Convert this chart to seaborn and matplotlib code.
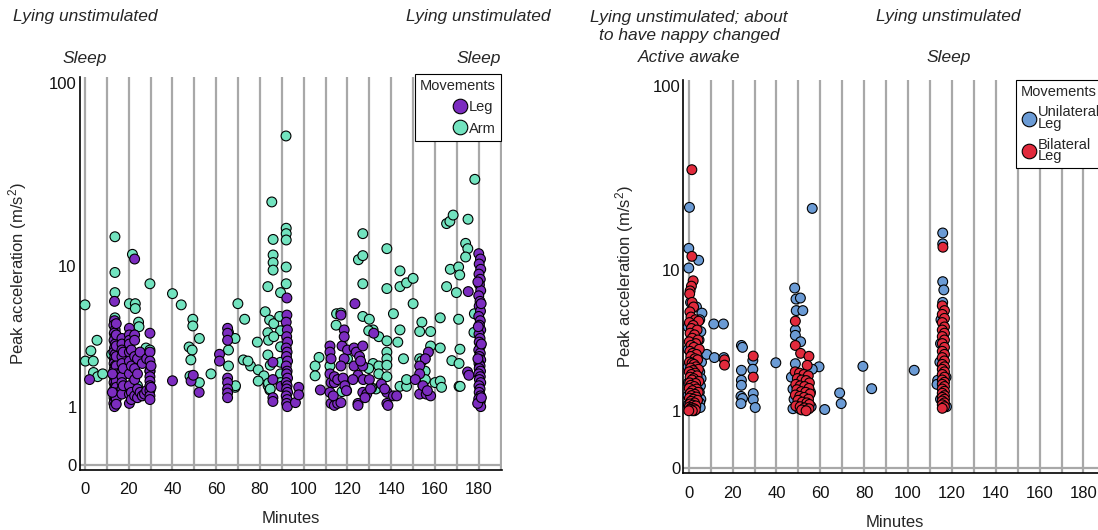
import numpy as np
import pandas as pd
import matplotlib
matplotlib.use("Agg")
import matplotlib.pyplot as plt
from matplotlib.lines import Line2D
import seaborn as sns

# ---------------- data (minutes, peak acceleration m/s^2) ----------------
leg_points = [
    (2.1, 1.8),
    (13.5, 6.2), (13.5, 4.7), (13.2, 4.4), (13.8, 4.1), (13.4, 3.9), (13.7, 3.7), (13.3, 3.5), (13.8, 3.3),
    (13.5, 3.1), (13.2, 2.9), (13.8, 2.8), (13.4, 2.6), (13.7, 2.5), (13.3, 2.4), (13.8, 2.3), (13.5, 2.2),
    (13.2, 2.1), (13.8, 2.0), (13.4, 1.9), (13.7, 1.8), (13.3, 1.7), (13.8, 1.6), (13.5, 1.5), (13.2, 1.45),
    (13.8, 1.4), (13.4, 1.35), (13.7, 1.3), (13.3, 1.25), (13.8, 1.2), (13.5, 1.15), (13.2, 1.1), (13.7, 1.05),
    (13.5, 1.02),
    (14.3, 4.5), (14.3, 3.8), (14.3, 3.2), (14.3, 2.7), (14.3, 2.3), (14.3, 2.0), (14.3, 1.75), (14.3, 1.55),
    (14.3, 1.38), (14.3, 1.22), (14.3, 1.08), (12.5, 1.4), (12.6, 2.0),
    (16.9, 3.6), (16.9, 3.3), (16.9, 3.0), (16.9, 2.7), (16.9, 2.4), (16.9, 2.1), (16.9, 1.9), (16.9, 1.7),
    (16.9, 1.5), (16.9, 1.35), (17.5, 2.9), (17.5, 2.2), (17.5, 1.6),
    (20.3, 4.2), (20.3, 3.8), (20.3, 3.5), (20.3, 3.3), (20.3, 2.9), (20.3, 2.5), (20.3, 2.0), (20.3, 1.6),
    (20.3, 1.35), (20.3, 1.1), (21.2, 3.0), (21.2, 2.3), (21.2, 1.4), (21.2, 1.2),
    (22.7, 11.0), (22.7, 3.8), (22.7, 3.5), (22.7, 2.7), (22.7, 2.2), (22.7, 1.8), (22.7, 1.3),
    (24.0, 2.6), (24.0, 2.0), (24.0, 1.5), (24.0, 1.25), (25.2, 2.9), (25.2, 1.4), (26.2, 2.4), (26.2, 1.3),
    (27.2, 1.35), (28.2, 2.6), (28.2, 1.45),
    (29.7, 3.9), (29.7, 2.9), (29.7, 2.5), (29.7, 2.1), (29.7, 1.9), (29.7, 1.75), (29.7, 1.6), (29.7, 1.45),
    (29.7, 1.3), (29.7, 1.2), (30.2, 2.3), (30.2, 1.55),
    (40.0, 1.76), (48.5, 1.75), (49.5, 1.95), (52.2, 1.4), (61.5, 2.8), (61.5, 2.5),
    (65.2, 4.2), (65.2, 3.9), (65.2, 3.5), (65.2, 1.85), (65.2, 1.7), (65.2, 1.5), (65.2, 1.38), (65.2, 1.25),
    (85.9, 2.45), (85.9, 1.8), (85.9, 1.25), (85.9, 1.15), (89.6, 1.58),
    (92.3, 6.5), (92.3, 5.1), (92.0, 4.6), (92.5, 4.1), (92.2, 3.7), (92.6, 3.4), (92.0, 3.1), (92.4, 2.9),
    (92.1, 2.7), (92.6, 2.5), (92.0, 2.3), (92.4, 2.1), (92.2, 2.0), (92.6, 1.85), (92.0, 1.7), (92.4, 1.6),
    (92.2, 1.5), (92.6, 1.4), (92.0, 1.3), (92.4, 1.2), (92.2, 1.1), (92.5, 1.02),
    (96.2, 1.12), (97.7, 1.55), (97.7, 1.33), (107.6, 1.47),
    (117.0, 5.1), (112.0, 3.2), (117.5, 3.2), (118.5, 4.1), (118.5, 3.7), (112.0, 2.9), (112.5, 2.6),
    (112.0, 2.0), (112.5, 1.7), (114.0, 1.7), (112.0, 1.4), (112.5, 1.1), (114.0, 1.05), (115.5, 1.1),
    (117.0, 1.12), (114.0, 1.9), (115.5, 1.8), (118.0, 1.85), (120.0, 3.0), (118.5, 2.6), (117.0, 2.3),
    (118.8, 1.6), (113.5, 1.3), (119.5, 1.45),
    (123.4, 6.0), (123.0, 3.1), (124.0, 2.9), (125.5, 2.7), (127.0, 3.2), (123.0, 2.3), (124.8, 1.95),
    (127.2, 1.8), (127.0, 2.3), (126.0, 2.5), (124.8, 1.1), (124.8, 1.05), (127.0, 1.4), (128.8, 1.35),
    (130.0, 1.8), (132.0, 3.9), (122.5, 1.8), (128.0, 1.25), (130.5, 1.5),
    (135.5, 1.65), (138.0, 1.4), (138.0, 1.1), (141.0, 1.3), (137.0, 1.5), (138.5, 1.05), (142.5, 1.3),
    (157.0, 2.9), (155.6, 2.6), (153.0, 2.3), (153.0, 2.0), (153.0, 1.35), (156.0, 1.35), (158.0, 1.3),
    (151.0, 1.8), (154.5, 1.6), (156.5, 1.45),
    (175.2, 7.1), (174.9, 2.07), (175.5, 1.95),
    (180.0, 11.8), (180.8, 11.0), (180.2, 10.3), (180.9, 9.6), (180.1, 9.0), (180.7, 8.4), (180.3, 7.8),
    (180.9, 7.2), (180.0, 6.7), (180.6, 6.2), (180.2, 5.8), (180.8, 5.4), (180.0, 5.0), (180.7, 4.7),
    (180.3, 4.4), (180.9, 4.1), (180.1, 3.85), (180.6, 3.6), (180.2, 3.4), (180.8, 3.2), (180.0, 3.0),
    (180.7, 2.85), (180.3, 2.7), (180.9, 2.55), (180.1, 2.4), (180.6, 2.3), (180.2, 2.2), (180.8, 2.1),
    (180.0, 2.0), (180.7, 1.9), (180.3, 1.8), (180.9, 1.7), (180.1, 1.6), (180.6, 1.5), (180.2, 1.4),
    (180.8, 1.3), (180.0, 1.22), (180.7, 1.15), (180.3, 1.08), (180.9, 1.02),
    (179.5, 1.1), (181.2, 1.25), (179.6, 2.6), (181.2, 3.3), (179.8, 4.3), (181.1, 6.0), (179.6, 8.1),
]

arm_points = [
    (0.0, 5.9), (0.2, 2.5), (2.7, 2.96), (3.8, 2.5), (5.5, 3.5), (3.9, 2.05), (5.8, 1.9), (8.1, 2.0), (12.2, 2.8),
    (13.7, 14.7), (13.7, 9.2), (13.7, 7.0), (13.7, 4.9), (17.2, 3.0),
    (21.7, 11.7), (20.3, 6.0), (23.0, 6.0), (23.0, 5.6), (24.5, 4.6), (29.7, 7.9), (24.7, 4.3), (20.3, 3.0),
    (27.9, 3.1), (29.7, 3.0), (29.7, 2.1), (20.5, 2.1), (24.0, 1.6),
    (40.0, 6.9), (44.0, 5.9),
    (49.3, 4.8), (49.3, 4.35), (52.3, 3.6), (47.6, 3.15), (49.0, 3.0), (48.4, 2.55), (48.0, 1.92), (52.3, 1.7),
    (57.6, 2.0),
    (65.6, 3.95), (65.6, 3.0), (65.6, 2.3), (68.6, 3.6), (69.9, 6.0), (73.0, 4.8), (68.6, 1.55), (68.8, 1.6),
    (72.4, 2.55), (75.7, 2.3), (78.8, 3.4), (79.2, 2.15), (81.8, 1.93), (79.2, 1.75), (74.5, 2.5), (83.7, 1.6),
    (84.5, 1.47),
    (85.4, 22.9), (91.9, 52.0), (92.0, 16.4), (92.0, 15.3), (92.0, 14.1), (86.0, 14.2), (86.0, 11.6),
    (86.0, 10.5), (86.0, 9.5), (92.0, 9.9), (92.0, 7.9), (89.4, 7.0), (83.6, 7.6),
    (82.4, 5.35), (84.4, 4.75), (86.3, 4.5), (89.0, 5.0), (89.4, 4.05), (89.4, 3.16), (83.6, 3.93), (83.9, 3.5),
    (86.3, 3.7), (83.6, 2.77), (84.7, 2.33), (89.4, 2.45), (83.9, 1.68), (84.7, 1.5), (89.4, 2.0), (89.4, 1.7),
    (107.0, 2.66), (105.2, 2.3), (105.2, 1.93),
    (115.0, 5.2), (117.0, 5.25), (114.8, 4.4), (112.0, 2.3), (120.0, 2.6), (119.6, 1.45), (117.5, 1.42),
    (127.0, 15.3), (125.0, 10.9), (127.0, 11.5), (127.0, 7.9), (127.0, 5.0), (130.0, 4.8), (131.7, 4.1),
    (129.7, 4.05), (134.3, 3.7), (131.7, 2.4), (134.3, 2.3), (134.3, 2.0), (133.0, 1.5), (129.7, 2.2), (131.0, 1.53),
    (138.0, 12.6), (138.0, 7.4), (138.0, 3.47), (138.0, 2.9), (138.0, 2.6), (138.0, 2.33), (138.0, 1.9),
    (141.0, 5.2), (144.0, 9.4), (144.0, 7.6), (147.0, 8.0), (150.0, 8.5), (150.0, 6.0), (144.0, 4.1),
    (143.0, 3.4), (145.6, 2.6), (144.0, 1.58), (147.0, 1.58), (147.0, 1.8),
    (154.0, 4.6), (153.0, 4.0), (158.0, 4.0), (153.0, 2.6), (154.0, 2.5), (155.5, 2.1), (154.5, 1.6),
    (158.0, 3.2), (155.6, 1.8),
    (162.4, 4.9), (162.4, 3.1), (160.0, 1.7), (162.4, 1.75), (163.0, 1.55),
    (165.3, 17.4), (166.8, 17.9), (168.3, 19.4), (175.1, 18.4), (178.2, 30.4), (174.0, 13.5), (175.0, 12.6),
    (174.0, 11.3), (167.0, 9.6), (170.8, 9.9), (171.3, 8.9), (165.3, 7.6), (169.8, 7.0), (170.8, 4.8),
    (171.4, 3.04), (167.7, 2.52), (171.0, 2.4), (171.0, 1.58), (171.5, 1.58), (178.0, 5.2), (177.8, 3.95),
]

unilateral_points = [
    (0.3, 22.3), (0.0, 13.2), (4.5, 11.3), (0.0, 10.2), (0.8, 6.4), (3.5, 6.0), (6.0, 5.5), (5.0, 5.0),
    (-0.3, 4.5), (4.7, 3.7), (5.5, 4.2), (-0.2, 3.2), (5.2, 3.0), (5.8, 2.6), (-0.3, 2.4), (5.0, 2.2),
    (5.6, 1.95), (-0.2, 1.8), (5.3, 1.7), (4.8, 1.5), (-0.3, 1.4), (5.5, 1.3), (5.0, 1.2), (4.4, 1.1),
    (-0.2, 1.15), (3.6, 1.05), (5.2, 1.08), (2.5, 1.0), (1.8, 1.12),
    (8.2, 2.95), (11.7, 2.8), (16.0, 2.8), (11.4, 4.7), (15.8, 4.7),
    (24.0, 3.4), (24.5, 3.3), (24.0, 2.26), (24.0, 1.89), (24.0, 1.72), (23.8, 1.38), (24.5, 1.32), (23.8, 1.18),
    (29.2, 2.67), (29.2, 2.3), (29.4, 1.46), (29.4, 1.29), (30.3, 1.08), (39.7, 2.57),
    (48.3, 7.8), (48.9, 6.7), (50.9, 6.8), (49.0, 5.7), (52.0, 5.7), (48.6, 4.3), (48.6, 3.97), (51.0, 3.6),
    (48.6, 2.53), (59.4, 2.4), (56.3, 2.3), (46.8, 2.0), (47.5, 1.6), (48.0, 1.3), (47.5, 1.05), (49.5, 1.1),
    (53.5, 1.2), (55.5, 1.5), (55.8, 1.1), (50.5, 1.05), (56.3, 22.0),
    (62.0, 1.03), (68.8, 1.48), (69.5, 1.18), (79.4, 2.42), (83.4, 1.61), (102.8, 2.26),
    (115.8, 16.1), (115.8, 14.0), (115.8, 8.5), (116.3, 7.6), (115.8, 6.4), (113.5, 1.89), (113.2, 1.75),
    (115.0, 5.0), (114.8, 3.5), (114.5, 2.6), (117.3, 2.0), (114.8, 1.3), (117.5, 1.1),
]

bilateral_points = [
    (1.4, 35.7), (1.4, 11.9), (2.0, 8.6), (1.2, 8.0), (0.6, 7.5), (0.4, 7.2), (1.5, 6.4), (2.2, 6.0),
    (0.5, 5.6), (1.0, 5.2), (3.0, 5.0), (4.5, 4.9), (0.3, 4.8), (2.0, 4.6), (1.2, 4.4), (3.8, 4.3),
    (0.6, 4.1), (2.6, 4.0), (1.6, 3.8), (4.2, 3.7), (0.2, 3.6), (3.2, 3.5), (1.0, 3.4), (2.3, 3.3),
    (4.8, 3.2), (0.5, 3.1), (1.8, 3.0), (3.5, 2.95), (0.9, 2.85), (2.8, 2.75), (4.0, 2.7), (0.3, 2.6),
    (1.5, 2.55), (2.4, 2.5), (3.3, 2.4), (0.8, 2.35), (4.4, 2.3), (1.9, 2.25), (0.2, 2.2), (2.9, 2.15),
    (1.2, 2.1), (3.8, 2.05), (0.6, 2.0), (2.2, 1.95), (1.5, 1.9), (4.6, 1.85), (0.4, 1.8), (3.1, 1.78),
    (1.0, 1.72), (2.5, 1.68), (0.2, 1.62), (3.6, 1.6), (1.7, 1.55), (4.3, 1.5), (0.7, 1.47), (2.8, 1.44),
    (1.3, 1.4), (3.4, 1.36), (0.3, 1.33), (2.1, 1.3), (4.0, 1.27), (1.0, 1.24), (2.6, 1.2), (0.5, 1.17),
    (1.8, 1.14), (3.2, 1.12), (0.2, 1.09), (1.2, 1.07), (2.4, 1.05), (0.7, 1.03), (3.0, 1.02), (1.6, 1.0),
    (0.0, 1.0),
    (16.3, 2.7), (16.3, 2.47), (29.4, 2.87), (29.4, 2.0),
    (48.6, 4.9), (48.6, 3.4), (51.0, 3.0), (54.8, 2.86), (54.0, 2.46),
    (48.5, 2.2), (50.5, 2.15), (52.5, 2.1), (54.5, 2.05), (49.5, 1.95), (51.5, 1.9), (53.5, 1.88), (55.0, 1.8),
    (48.8, 1.75), (50.8, 1.7), (52.8, 1.68), (54.8, 1.62), (49.3, 1.58), (51.3, 1.52), (53.3, 1.5), (55.3, 1.45),
    (48.6, 1.42), (50.6, 1.38), (52.6, 1.35), (54.6, 1.3), (49.8, 1.27), (51.8, 1.22), (53.8, 1.2), (55.0, 1.16),
    (48.8, 1.12), (50.8, 1.1), (52.8, 1.07), (54.8, 1.05), (51.5, 1.02), (53.5, 1.0),
    (115.9, 13.4),
    (115.6, 6.1), (116.6, 5.7), (115.6, 5.4), (116.6, 5.1), (115.6, 4.8), (116.6, 4.5), (115.6, 4.3),
    (116.6, 4.1), (115.6, 3.9), (116.6, 3.7), (115.6, 3.5), (116.6, 3.3), (115.6, 3.1), (116.6, 2.95),
    (115.6, 2.8), (116.6, 2.65), (115.6, 2.5), (116.6, 2.4), (115.6, 2.3), (116.6, 2.2), (115.6, 2.1),
    (116.6, 2.0), (115.6, 1.9), (116.6, 1.82), (115.6, 1.75), (116.6, 1.68), (115.6, 1.6), (116.6, 1.53),
    (115.6, 1.47), (116.6, 1.4), (115.6, 1.35), (116.6, 1.3), (115.6, 1.25), (116.6, 1.2), (115.6, 1.15),
    (116.6, 1.1), (115.6, 1.06),
]

left_labels = ["Leg", "Arm"]
right_labels = ["Unilateral\nLeg", "Bilateral\nLeg"]
xtick_values = [0, 20, 40, 60, 80, 100, 120, 140, 160, 180]
ytick_values = [0, 1, 10, 100]

# (minute, upper text, upper text height in axes fraction, lower text)
left_notes = [(0, "Lying unstimulated", 1.155, "Sleep"), (180, "Lying unstimulated", 1.155, "Sleep")]
right_notes = [(0, "Lying unstimulated; about\nto have nappy changed", 1.136, "Active awake"),
               (118.5, "Lying unstimulated", 1.163, "Sleep")]

colors = {"Leg": "#7c2cc0", "Arm": "#72e3bf",
          "Unilateral\nLeg": "#6b9bd5", "Bilateral\nLeg": "#e12a3c"}

# ---------------- style ----------------
sns.set_theme(style="white")
plt.rcParams["font.family"] = ["Liberation Sans", "DejaVu Sans"]
plt.rcParams["mathtext.default"] = "regular"

fig = plt.figure(figsize=(10.98, 5.30), dpi=100)
W, H = 1098, 530
ax1 = fig.add_axes([79.5 / W, (H - 470) / H, 422 / W, 393 / H])
ax2 = fig.add_axes([683.3 / W, (H - 473.3) / H, 423 / W, 393 / H])


def fwd(y):
    return np.log10(np.clip(np.asarray(y, dtype=float) + 1.0, 1e-6, None))


def inv(f):
    return 10 ** np.asarray(f, dtype=float) - 1.0


def make_df(groups):
    rows = []
    for name, pts in groups:
        for m, a in pts:
            rows.append({"Minutes": m, "acc": a, "Movement": name})
    return pd.DataFrame(rows)


df_left = make_df([("Arm", arm_points), ("Leg", leg_points)])
df_right = make_df([("Unilateral\nLeg", unilateral_points), ("Bilateral\nLeg", bilateral_points)])

for ax, df, labels, notes in [(ax1, df_left, left_labels, left_notes),
                              (ax2, df_right, right_labels, right_notes)]:
    ax.set_yscale("function", functions=(fwd, inv))
    sns.scatterplot(data=df, x="Minutes", y="acc", hue="Movement", palette=colors,
                    s=50, edgecolor="black", linewidth=0.8, legend=False, ax=ax, zorder=3)
    ax.set_xlim(-2.5, 190.4)
    ax.set_ylim(-0.06, 107)
    ax.set_xticks(xtick_values)
    ax.set_xticks(list(range(10, 200, 20)), minor=True)
    ax.set_yticks(ytick_values)
    ax.set_yticks([], minor=True)
    ax.set_yticklabels([str(v) for v in ytick_values])
    ax.grid(False)
    ax.xaxis.grid(True, which="both", color="#a8a8a8", linewidth=1.6, zorder=0)
    ax.axhline(0, color="#a8a8a8", linewidth=1.6, zorder=0)
    ax.set_axisbelow(True)
    for side in ["top", "right"]:
        ax.spines[side].set_visible(False)
    for side in ["left", "bottom"]:
        ax.spines[side].set_color("black")
        ax.spines[side].set_linewidth(1.2)
    ax.tick_params(axis="both", which="both", length=0, labelsize=12, colors="#111111")
    ax.tick_params(axis="x", pad=9)
    ax.tick_params(axis="y", pad=2)
    ax.set_xlabel("Minutes", fontsize=12, labelpad=10)
    ax.set_ylabel("Peak acceleration (m/s$^2$)", fontsize=12)

    trans = ax.get_xaxis_transform()
    for xpos, top, ytop, mid in notes:
        ax.text(xpos, ytop, top, transform=trans, ha="center", va="center",
                fontsize=12.5, style="italic", linespacing=1.25, clip_on=False)
        ax.text(xpos, 1.047 if ax is ax1 else 1.057, mid, transform=trans, ha="center", va="center",
                fontsize=12.5, style="italic", clip_on=False)

    handles = [Line2D([0], [0], marker="o", linestyle="none", markersize=10.5,
                      markerfacecolor=colors[l], markeredgecolor="black", markeredgewidth=0.8)
               for l in labels]
    if ax is ax1:
        leg = ax.legend(handles, labels, title="Movements", loc="upper right",
                        bbox_to_anchor=(0.998, 1.008), borderaxespad=0, frameon=True,
                        fancybox=False, fontsize=10.5, title_fontsize=10.5,
                        handletextpad=0.0, handlelength=1.2, labelspacing=0.5,
                        borderpad=0.35, alignment="right")
    else:
        leg = ax.legend(handles, labels, title="Movements", loc="upper left",
                        bbox_to_anchor=(0.787, 1.0), borderaxespad=0, frameon=True,
                        fancybox=False, fontsize=10.5, title_fontsize=10.5,
                        handletextpad=0.0, handlelength=1.2, labelspacing=0.45,
                        borderpad=0.3, alignment="left")
        for t in leg.get_texts():
            t.set_linespacing(0.8)
    leg.get_frame().set_edgecolor("black")
    leg.get_frame().set_linewidth(0.8)
    leg.get_frame().set_facecolor("white")
    leg.get_frame().set_alpha(1)
    leg.set_zorder(10)

ax1.yaxis.set_label_coords(-0.119, 0.5)
ax2.yaxis.set_label_coords(-0.112, 0.5)

fig.savefig("out.png", dpi=100)
